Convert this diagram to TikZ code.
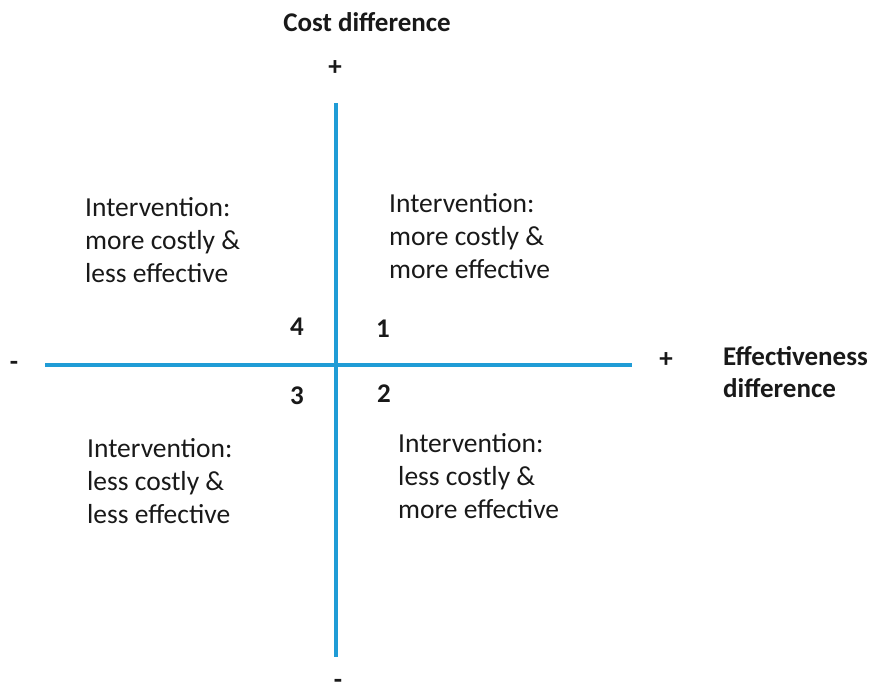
\documentclass[tikz,border=0pt]{standalone}
\usepackage{fontspec}
\setmainfont{Carlito}
\begin{document}
\definecolor{axisblue}{RGB}{32,156,214}
\begin{tikzpicture}[x=1pt,y=-1pt,
  txt/.style={inner sep=0pt,font=\fontsize{27.5}{33}\selectfont,align=left,text=black!90},
  ttl/.style={inner sep=0pt,font=\fontsize{27}{32}\selectfont\bfseries,align=left,text=black!90},
  num/.style={inner sep=0pt,font=\fontsize{27}{32}\selectfont\bfseries,text=black!90},
  axis/.style={draw=axisblue,line width=3.6pt}]
\useasboundingbox (0,0) rectangle (875,696);
% axes
\coordinate (ytop) at (336,103);
\coordinate (ybot) at (336,657);
\coordinate (xleft) at (45,365);
\coordinate (xright) at (632,365);
\draw[axis] (ytop) -- (ybot);
\draw[axis] (xleft) -- (xright);
% axis titles and signs
\node[ttl] (costlbl) at (367,22) {Cost difference};
\node[num] (yplus) at (335,68) {+};
\node[num] (yminus) at (338,684) {-};
\node[num] (xminus) at (14,366) {-};
\node[num] (xplus) at (666,360) {+};
\node[ttl,anchor=west] (efflbl) at (723,372) {Effectiveness\\difference};
% quadrant numbers
\node[num] (q4) at (297,327) {4};
\node[num] (q1) at (383,329) {1};
\node[num] (q3) at (297,396) {3};
\node[num] (q2) at (384,394) {2};
% quadrant descriptions
\node[txt,anchor=west] (tl) at (85,240) {Intervention:\\more costly \&\\less effective};
\node[txt,anchor=west] (tr) at (389,236) {Intervention:\\more costly \&\\more effective};
\node[txt,anchor=west] (bl) at (87,481) {Intervention:\\less costly \&\\less effective};
\node[txt,anchor=west] (br) at (398,476) {Intervention:\\less costly \&\\more effective};
\end{tikzpicture}
\end{document}
